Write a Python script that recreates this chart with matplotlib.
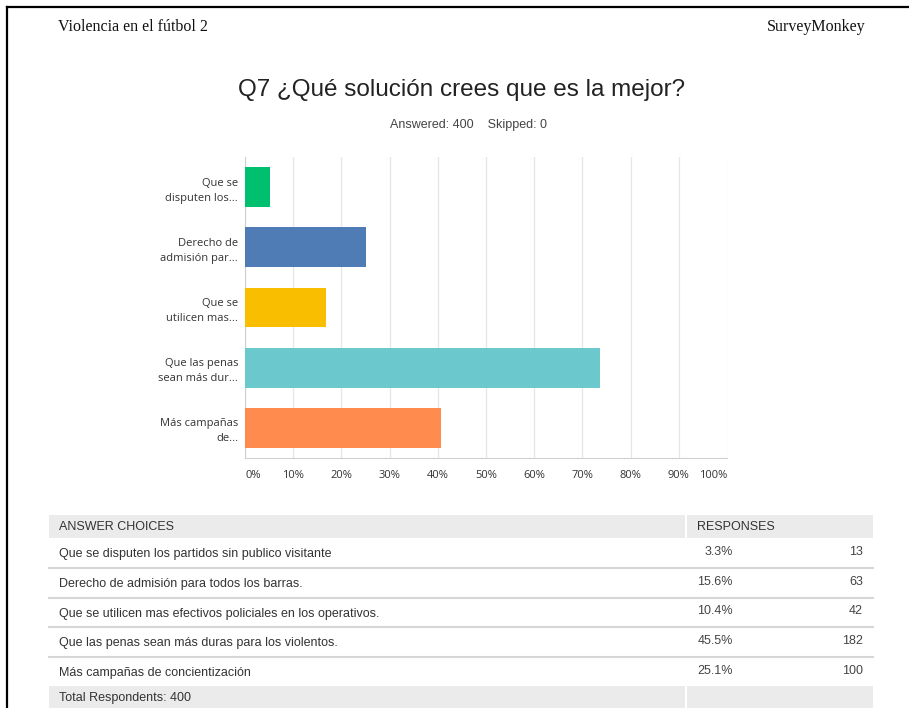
import matplotlib.pyplot as plt
from matplotlib.patches import Rectangle

# chart data (bar lengths as drawn on the chart, in %)
short_labels = ['Que se\ndisputen los...', 'Derecho de\nadmisión par...', 'Que se\nutilicen mas...',
                'Que las penas\nsean más dur...', 'Más campañas\nde...']
bar_values = [5.2, 25.1, 16.8, 73.7, 40.7]
bar_colors = ['#00BF6F', '#507CB6', '#F9BE00', '#6BC8CD', '#FF8B4F']
x_ticks = [0, 10, 20, 30, 40, 50, 60, 70, 80, 90, 100]

# table data
choices = ['Que se disputen los partidos sin publico visitante',
           'Derecho de admisión para todos los barras.',
           'Que se utilicen mas efectivos policiales en los operativos.',
           'Que las penas sean más duras para los violentos.',
           'Más campañas de concientización']
pcts = ['3.3%', '15.6%', '10.4%', '45.5%', '25.1%']
counts = [13, 63, 42, 182, 100]
answered = 400
skipped = 0

W, H = 909, 708
fig = plt.figure(figsize=(W / 100, H / 100), dpi=100)
fig.patch.set_facecolor('white')

# full-page layer in pixel coordinates
bg = fig.add_axes([0, 0, 1, 1])
bg.set_xlim(0, W)
bg.set_ylim(H, 0)
bg.axis('off')

# page border (left and top)
bg.plot([7, 7], [7, H], color='black', lw=1.6)
bg.plot([7, W], [7, 7], color='black', lw=1.6)

bg.text(58, 27, 'Violencia en el fútbol 2', family='Liberation Serif', fontsize=11.5,
        ha='left', va='center', color='#111111')
bg.text(866, 27, 'SurveyMonkey', family='Liberation Serif', fontsize=11.5,
        ha='right', va='center', color='#111111')
bg.text(461, 90, 'Q7 ¿Qué solución crees que es la mejor?', family='Liberation Sans',
        fontsize=17.5, ha='center', va='center', color='#222222')
bg.text(468, 125, f'Answered: {answered}    Skipped: {skipped}', family='Liberation Sans',
        fontsize=9, ha='center', va='center', color='#444444')

# table
tx0, tx1, tdiv = 49, 873, 686
bg.add_patch(Rectangle((tx0, 515), tdiv - tx0 - 1, 23, color='#EBEBEB', lw=0))
bg.add_patch(Rectangle((tdiv + 1, 515), tx1 - tdiv - 1, 23, color='#EBEBEB', lw=0))
bg.text(59, 527, 'ANSWER CHOICES', family='Liberation Sans', fontsize=9, va='center', color='#333333')
bg.text(697, 527, 'RESPONSES', family='Liberation Sans', fontsize=9, va='center', color='#333333')

row_top = 538
row_h = 29.8
for i, (c, p, n) in enumerate(zip(choices, pcts, counts)):
    yc = row_top + row_h * i + row_h / 2 + 1
    bg.text(59, yc, c, family='Liberation Sans', fontsize=9, va='center', color='#333333')
    bg.text(733, yc - 2, p, family='Liberation Sans', fontsize=9, va='center', ha='right', color='#444444')
    bg.text(863, yc - 2, str(n), family='Liberation Sans', fontsize=9, va='center', ha='right', color='#444444')
    if i < len(choices) - 1:
        yl = row_top + row_h * (i + 1)
        bg.plot([tx0, tx1], [yl, yl], color='#D6D6D6', lw=1.5)

bg.add_patch(Rectangle((tx0, 686), tdiv - tx0 - 1, 22, color='#EBEBEB', lw=0))
bg.add_patch(Rectangle((tdiv + 1, 686), tx1 - tdiv - 1, 22, color='#EBEBEB', lw=0))
bg.text(59, 698, f'Total Respondents: {answered}', family='Liberation Sans', fontsize=9,
        va='center', color='#333333')

# bar chart
ax = fig.add_axes([245 / W, 1 - 458 / H, 482 / W, 301 / H])
ypos = list(range(len(bar_values)))
ax.barh(ypos, bar_values, height=0.66, color=bar_colors, zorder=3)
ax.set_ylim(len(bar_values) - 0.5, -0.5)
ax.set_xlim(0, 100)
ax.set_xticks(x_ticks)
ax.grid(axis='x', color='#E6E6E6', lw=0.9, zorder=0)
for s in ['top', 'right']:
    ax.spines[s].set_visible(False)
ax.spines['left'].set_color('#D0D0D0')
ax.spines['bottom'].set_color('#D0D0D0')
ax.tick_params(length=0)
ax.set_yticks(ypos)
ax.set_yticklabels(short_labels, family='Open Sans', fontsize=8, color='#333333',
                   linespacing=1.5)
ax.set_xticklabels([f'{t}%' for t in x_ticks], family='Open Sans', fontsize=8, color='#333333')
ax.tick_params(axis='y', pad=5)
ax.tick_params(axis='x', pad=9)
xl = ax.get_xticklabels()
xl[0].set_ha('left')
xl[-1].set_ha('right')

fig.savefig('out.png', dpi=100, facecolor='white')
